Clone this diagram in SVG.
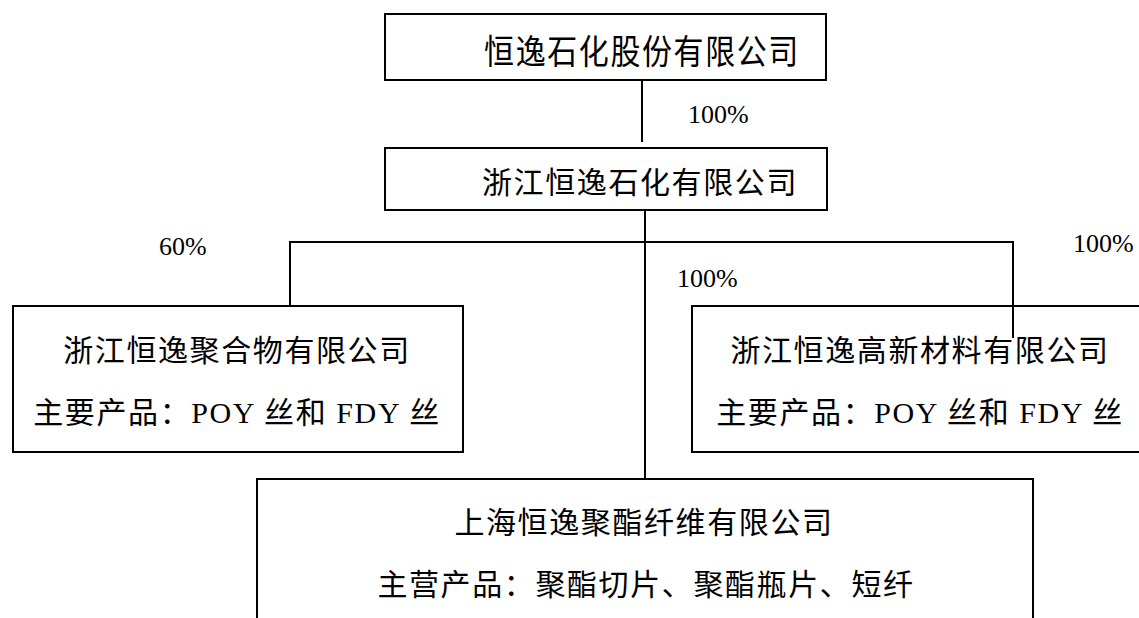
<svg xmlns="http://www.w3.org/2000/svg" width="1139" height="618" viewBox="0 0 1139 618">
<style>
.box{fill:#fff;stroke:#000;stroke-width:2}
.t{font-family:"Liberation Serif","Noto Sans CJK SC",serif;font-size:30px;letter-spacing:1.6px;fill:#000;text-anchor:middle}
.p{font-family:"Liberation Serif","Times New Roman",serif;font-size:26px;fill:#000}
.ln{stroke:#000;stroke-width:2;fill:none}
</style>
<rect width="1139" height="618" fill="#fff"/>
<g id="connectors">
<line class="ln" x1="642" y1="80" x2="642" y2="142"/>
<line class="ln" x1="645" y1="210" x2="645" y2="479"/>
<line class="ln" x1="290" y1="242" x2="1013" y2="242"/>
<line class="ln" x1="290" y1="241" x2="290" y2="306"/>
<line class="ln" x1="1013" y1="241" x2="1013" y2="338"/>
</g>
<g id="labels">
<text class="p" x="688" y="123">100%</text>
<text class="p" x="159" y="255">60%</text>
<text class="p" x="677" y="287">100%</text>
<text class="p" x="1073" y="252">100%</text>
</g>
<g id="node-parent">
<rect class="box" x="385" y="14" width="441" height="66"/>
<text class="t" transform="translate(642,64) scale(1,1.15)">恒逸石化股份有限公司</text>
</g>
<g id="node-zhejiang">
<rect class="box" x="385" y="148" width="442" height="62"/>
<text class="t" x="640" y="193">浙江恒逸石化有限公司</text>
</g>
<g id="node-polymer">
<rect class="box" x="13" y="306" width="450" height="146"/>
<text class="t" x="237" y="361">浙江恒逸聚合物有限公司</text>
<text class="t" x="237" y="423">主要产品：POY 丝和 FDY 丝</text>
</g>
<g id="node-newmaterial">
<rect class="box" x="692" y="306" width="456" height="146"/>
<text class="t" x="920" y="361">浙江恒逸高新材料有限公司</text>
<text class="t" x="920" y="423">主要产品：POY 丝和 FDY 丝</text>
</g>
<line class="ln" x1="1013" y1="306" x2="1013" y2="338"/>
<g id="node-shanghai">
<rect class="box" x="257" y="479" width="776" height="170"/>
<text class="t" x="644" y="533">上海恒逸聚酯纤维有限公司</text>
<text class="t" x="646" y="595">主营产品：聚酯切片、聚酯瓶片、短纤</text>
</g>
</svg>
